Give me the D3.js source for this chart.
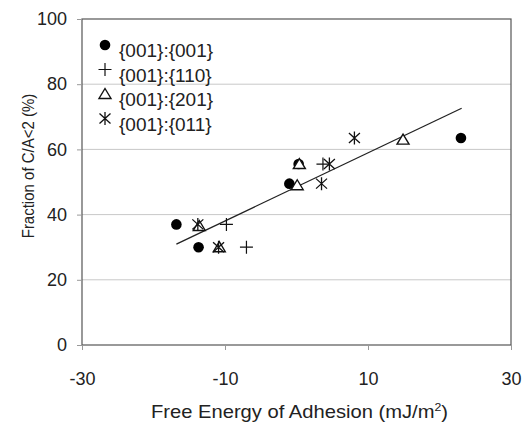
<!DOCTYPE html>
<html>
<head>
<meta charset="utf-8">
<script src="https://cdn.jsdelivr.net/npm/d3@7"></script>
<style>
  body { margin: 0; background: #fff; }
  text { font-family: "Liberation Sans", Arial, sans-serif; fill: #222; }
</style>
</head>
<body>
<div id="chart"></div>
<script>
// data
const seriesNames = ["{001}:{001}", "{001}:{110}", "{001}:{201}", "{001}:{011}"];
const seriesShapes = ["circle", "plus", "triangle", "asterisk"];
const circlePts = [[-16.8, 37], [-13.7, 30], [-1.0, 49.5], [0.3, 55.5], [23.0, 63.5]];
const plusPts = [[-9.8, 37], [-7.0, 30], [3.7, 55.5]];
const trianglePts = [[-13.6, 36.5], [-10.8, 30], [0.1, 49], [0.4, 55.5], [14.9, 63]];
const asteriskPts = [[-13.8, 37], [-10.9, 30], [4.6, 55.5], [3.5, 49.5], [8.1, 63.5]];
const allPts = [circlePts, plusPts, trianglePts, asteriskPts];
const trend = { slope: 1.044, intercept: 48.5, x0: -16.8, x1: 23.1 };
const xTicks = [-30, -10, 10, 30];
const yTicks = [0, 20, 40, 60, 80, 100];

const W = 526, H = 425;
const margin = { top: 19, right: 15, bottom: 80, left: 82 };
const width = 511 - margin.left;
const height = 345 - margin.top;

const svg = d3.select("#chart").append("svg")
  .attr("width", W).attr("height", H);
const g = svg.append("g")
  .attr("transform", "translate(" + margin.left + "," + margin.top + ")");

const x = d3.scaleLinear().domain([-30, 30]).range([0, width]);
const y = d3.scaleLinear().domain([0, 100]).range([height, 0]);

// gridlines
g.selectAll(".grid").data(yTicks.filter(d => d > 0 && d < 100))
  .enter().append("line")
  .attr("x1", 0).attr("x2", width)
  .attr("y1", d => y(d)).attr("y2", d => y(d))
  .attr("stroke", "#c8c8c8").attr("stroke-width", 1);

// frame
g.append("rect")
  .attr("width", width).attr("height", height)
  .attr("fill", "none").attr("stroke", "#555").attr("stroke-width", 1.2);

// axes (plain hyphen for negatives like the original)
const xAxis = d3.axisBottom(x).tickValues(xTicks).tickSize(5).tickPadding(22)
  .tickFormat(d => String(d));
const yAxis = d3.axisLeft(y).tickValues(yTicks).tickSize(5).tickPadding(10);

g.append("g").attr("transform", "translate(0," + height + ")").call(xAxis)
  .call(a => a.select(".domain").remove());
g.append("g").call(yAxis)
  .call(a => a.select(".domain").remove());

svg.selectAll(".tick line").attr("stroke", "#999");
svg.selectAll(".tick text")
  .style("font-family", "Liberation Sans, Arial, sans-serif")
  .style("font-size", "18px").attr("fill", "#222");

// axis titles
const xt = svg.append("text")
  .attr("transform", "translate(" + (margin.left + width / 2 + 3) + ",418) scale(1.12,1)")
  .attr("text-anchor", "middle").style("font-size", "18px");
xt.append("tspan").text("Free Energy of Adhesion (mJ/m");
xt.append("tspan").attr("dy", -7).style("font-size", "11px").text("2");
xt.append("tspan").attr("dy", 7).text(")");

svg.append("text")
  .attr("transform", "translate(34,166) rotate(-90) scale(1,1.15)")
  .attr("text-anchor", "middle").style("font-size", "15px")
  .text("Fraction of C/A<2 (%)");

// trend line
g.append("line")
  .attr("x1", x(trend.x0)).attr("y1", y(trend.slope * trend.x0 + trend.intercept))
  .attr("x2", x(trend.x1)).attr("y2", y(trend.slope * trend.x1 + trend.intercept))
  .attr("stroke", "#222").attr("stroke-width", 1.3);

function drawMarker(sel, shape) {
  if (shape === "circle") {
    sel.append("circle").attr("r", 5.3).attr("fill", "#000");
  } else if (shape === "plus") {
    sel.append("path").attr("d", "M-6.5,0H6.5M0,-6.5V6.5")
      .attr("stroke", "#111").attr("stroke-width", 1.2).attr("fill", "none");
  } else if (shape === "triangle") {
    sel.append("path").attr("d", "M0,-5.5L6,4.5H-6Z")
      .attr("stroke", "#111").attr("stroke-width", 1.4).attr("fill", "#fff");
  } else {
    sel.append("path").attr("d", "M-5.5,-5L5.5,5M-5.5,5L5.5,-5M0,-6.5V6.5")
      .attr("stroke", "#111").attr("stroke-width", 1.3).attr("fill", "none");
  }
}

// points
allPts.forEach((pts, i) => {
  g.selectAll(".pt" + i).data(pts).enter().append("g")
    .attr("class", "pt" + i)
    .attr("transform", d => "translate(" + x(d[0]) + "," + y(d[1]) + ")")
    .each(function () { drawMarker(d3.select(this), seriesShapes[i]); });
});

// legend
const leg = svg.append("g").attr("transform", "translate(105,45)");
seriesNames.forEach((name, i) => {
  const row = leg.append("g").attr("transform", "translate(0," + i * 24.5 + ")");
  drawMarker(row.append("g"), seriesShapes[i]);
  row.append("text").attr("x", 14).attr("y", 12)
    .style("font-size", "19px").text(name);
});
</script>
</body>
</html>
